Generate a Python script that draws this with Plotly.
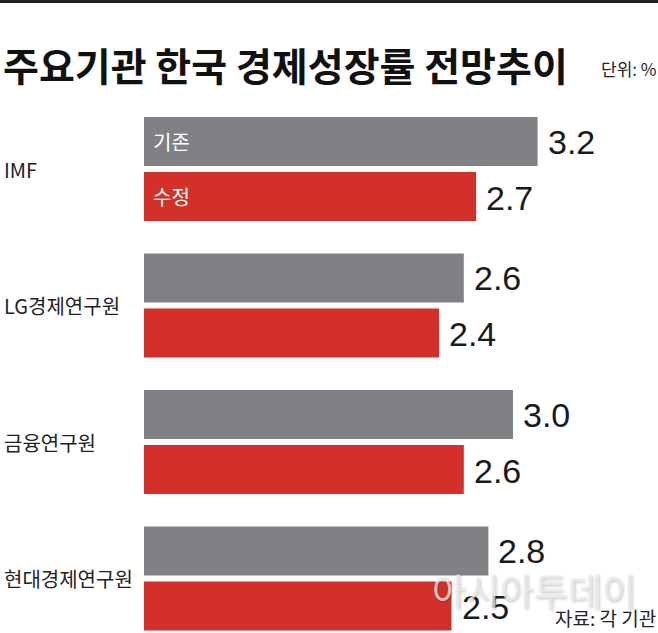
import plotly.graph_objects as go

categories = ["IMF", "LG경제연구원", "금융연구원", "현대경제연구원"]
previous = [3.2, 2.6, 3.0, 2.8]   # 기존
revised = [2.7, 2.4, 2.6, 2.5]    # 수정
series_names = ["기존", "수정"]

GRAY = "#808184"
RED = "#d3302a"
W, H = 658, 633
ML, MT = 144, 100
PW, PH = W - ML, H - MT
PX_PER_UNIT = 123.0
PITCH = 136.5
HALF = 27.5
num_font = "Liberation Sans Narrow, Arial Narrow, Liberation Sans, Arial, sans-serif"
kr_font = "Noto Sans CJK KR, sans-serif"

fig = go.Figure()
for name, vals, col in [(series_names[0], previous, GRAY), (series_names[1], revised, RED)]:
    fig.add_trace(go.Bar(
        y=categories, x=vals, orientation="h", name=name,
        marker=dict(color=col, line=dict(width=0)),
        hoverinfo="skip",
    ))

k_top = (MT - 169) / PITCH
k_bot = (H - 169) / PITCH

def py(pix):
    """pixel row from top -> paper y"""
    return 1 + (MT - pix) / PH

annotations = []
for c, p, r in zip(categories, previous, revised):
    annotations.append(dict(
        xref="paper", yref="y", x=-(ML - 2) / PW, y=c, xanchor="left", yanchor="middle",
        text=c, showarrow=False, font=dict(family=kr_font, size=20, color="#222222"),
    ))
    annotations.append(dict(xref="x", yref="y", x=p, y=c, xanchor="left", yanchor="middle",
                            xshift=8, yshift=HALF, text=f"{p:.1f}", showarrow=False,
                            font=dict(family=num_font, size=34, color="#1a1a1a")))
    annotations.append(dict(xref="x", yref="y", x=r, y=c, xanchor="left", yanchor="middle",
                            xshift=8, yshift=-HALF - 1, text=f"{r:.1f}", showarrow=False,
                            font=dict(family=num_font, size=34, color="#1a1a1a")))
annotations.append(dict(xref="x", yref="y", x=0, y=categories[0], xanchor="left", yanchor="middle",
                        xshift=7, yshift=HALF, text=series_names[0], showarrow=False,
                        font=dict(family=kr_font, size=20, color="white")))
annotations.append(dict(xref="x", yref="y", x=0, y=categories[0], xanchor="left", yanchor="middle",
                        xshift=7, yshift=-HALF, text=series_names[1], showarrow=False,
                        font=dict(family=kr_font, size=20, color="white")))
annotations.append(dict(xref="paper", yref="paper", x=-(ML - 1) / PW, y=py(64),
                        xanchor="left", yanchor="middle", showarrow=False,
                        text="<b>주요기관 한국 경제성장률 전망추이</b>",
                        font=dict(family=kr_font, size=39, color="#111111")))
annotations.append(dict(xref="paper", yref="paper", x=1, y=py(68),
                        xanchor="right", yanchor="middle", showarrow=False, text="단위: %",
                        font=dict(family=kr_font, size=17, color="#222222")))
annotations.append(dict(xref="paper", yref="paper", x=(534 - ML) / PW, y=py(590),
                        xanchor="center", yanchor="middle", showarrow=False, text="아시아투데이",
                        font=dict(family=kr_font, size=37, color="rgba(236,236,236,0.8)",
                                  shadow="1px 1px 3px rgba(0,0,0,0.3)")))
annotations.append(dict(xref="paper", yref="paper", x=1, y=py(617),
                        xanchor="right", yanchor="middle", showarrow=False, text="자료: 각 기관",
                        font=dict(family=kr_font, size=19, color="#222222")))

fig.update_layout(
    width=W, height=H,
    margin=dict(l=ML, r=0, t=MT, b=0, pad=0),
    paper_bgcolor="white", plot_bgcolor="white",
    barmode="group", bargap=0.194, bargroupgap=0.109,
    showlegend=False,
    xaxis=dict(range=[0, PW / PX_PER_UNIT], visible=False, fixedrange=True),
    yaxis=dict(type="category", range=[k_bot, k_top], visible=False, fixedrange=True),
    annotations=annotations,
    shapes=[dict(type="rect", xref="paper", yref="paper", layer="above",
                 x0=-ML / PW, x1=1, y0=py(3), y1=py(0),
                 fillcolor="#231f20", line=dict(width=0))],
)

fig.write_html("out.html", config={"displayModeBar": False, "staticPlot": True},
               post_script="document.body.style.margin='0';document.body.style.padding='0';")
